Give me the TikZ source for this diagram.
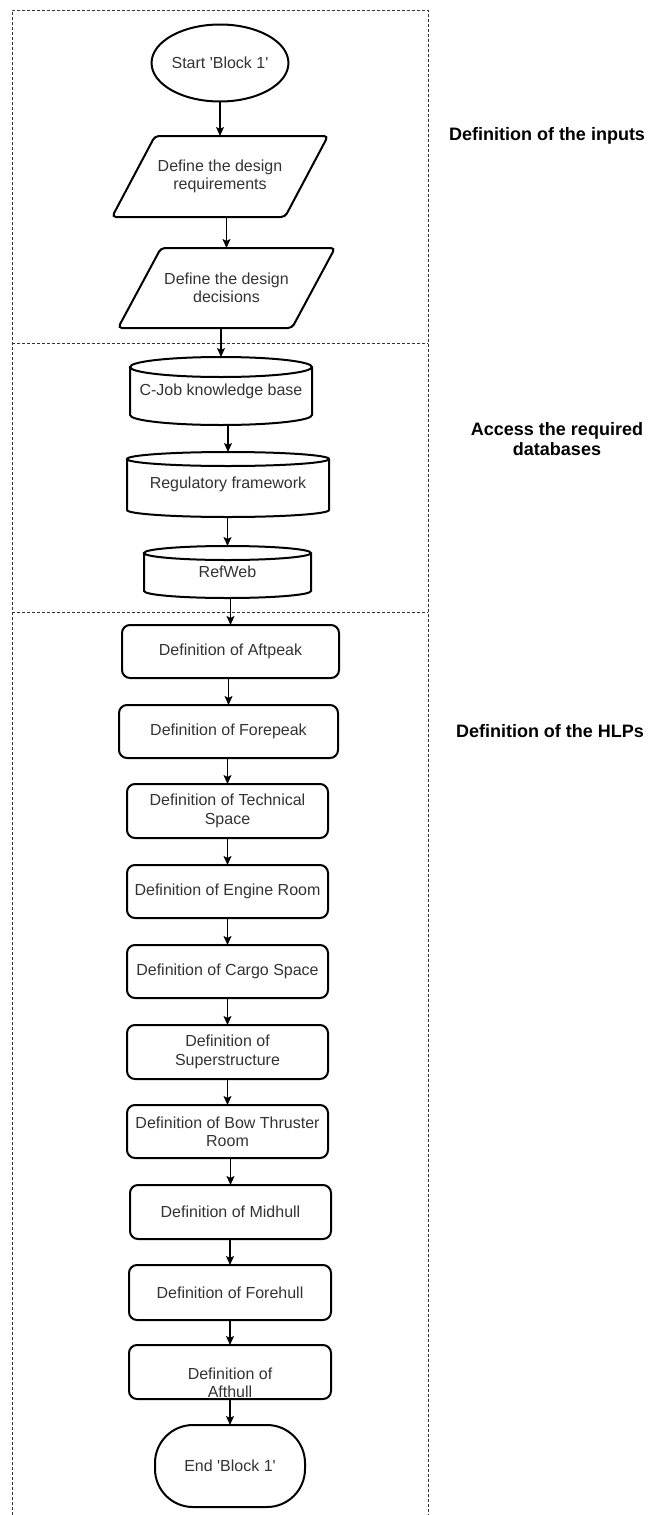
\documentclass[tikz,border=0pt]{standalone}
\usepackage{fontspec}
\setmainfont{Liberation Sans}
\usetikzlibrary{arrows.meta,calc,shapes.geometric}
\definecolor{txt}{HTML}{333333}
\newcommand\cyldraw[3]{%
 \draw[shp] ([yshift=-#3pt]#1.north west) -- ([yshift=#3pt]#1.south west)
   arc[start angle=180,end angle=360,x radius=#2pt,y radius=#3pt]
   -- ([yshift=-#3pt]#1.north east)
   arc[start angle=0,end angle=180,x radius=#2pt,y radius=#3pt]
   arc[start angle=180,end angle=360,x radius=#2pt,y radius=#3pt];}
\newcommand\paradraw[2]{%
 \draw[shp,rounded corners=4pt] (#1.south west) -- ([xshift=-#2pt]#1.south east)
   -- (#1.north east) -- ([xshift=#2pt]#1.north west) -- cycle;}
\begin{document}
\begin{tikzpicture}[x=1pt,y=-1pt,
  boxtext/.style={font=\fontsize{16}{18.4}\selectfont, text=txt, align=center},
  shp/.style={draw=black, line width=2pt},
  bare/.style={boxtext, inner sep=0pt, outer sep=0pt},
  hlp/.style={bare, shp, rounded corners=8pt, minimum width=201pt, minimum height=53pt},
  para/.style={bare, minimum width=216pt, minimum height=81pt},
  cyl/.style={bare},
  lab/.style={font=\bfseries\fontsize{18}{20.5}\selectfont, align=center, text=black},
  arr/.style={-{Stealth[length=9pt,width=8pt,inset=2pt]}, line width=1.3pt},
  dashframe/.style={line width=1pt, draw=black!80, dash pattern=on 3pt off 2pt}]
\useasboundingbox (0,0) rectangle (657,1515);
% frame
\draw[dashframe] (12,1515) -- (12,10) -- (428,10) -- (428,1515);
\draw[dashframe] (12,343) -- (428,343);
\draw[dashframe] (12,612) -- (428,612);
% labels
\node[lab] (l1) at (547,136) {Definition of the inputs};
\node[lab] (l2) at (557,439) {Access the required\\databases};
\node[lab] (l3) at (550,731) {Definition of the HLPs};
% inputs
\node[bare, shp, ellipse, minimum width=134pt, minimum height=77pt] (start) at (220,63) {Start \textquotesingle Block 1\textquotesingle};
\node[para] (p1) at (220,176.5) {Define the design\\requirements};
\paradraw{p1}{43}
\node[para, minimum width=217pt, minimum height=80pt] (p2) at (226.5,288) {Define the design\\decisions};
\paradraw{p2}{43}
% databases
\node[cyl, minimum width=182pt, minimum height=68pt] (c1) at (221,391) {C-Job knowledge base};
\cyldraw{c1}{91}{10}
\node[cyl, minimum width=202pt, minimum height=65pt] (c2) at (228,484.5) {Regulatory framework};
\cyldraw{c2}{101}{7}
\node[cyl, minimum width=167pt, minimum height=52pt] (c3) at (227.5,572) {RefWeb};
\cyldraw{c3}{83.5}{7}
% HLPs
\node[hlp, minimum width=217pt] (h1) at (230.5,651.5) {Definition of Aftpeak};
\node[hlp, minimum width=219pt] (h2) at (228.5,731.5) {Definition of Forepeak};
\node[hlp, minimum height=54pt] (h3) at (227.5,811) {Definition of Technical\\Space};
\node[hlp] (h4) at (227.5,891.5) {Definition of Engine Room};
\node[hlp] (h5) at (227.5,971.5) {Definition of Cargo Space};
\node[hlp, minimum height=54pt] (h6) at (227.5,1052) {Definition of\\Superstructure};
\node[hlp] (h7) at (227.5,1131.5) {Definition of Bow Thruster\\Room};
\node[hlp, minimum height=54pt] (h8) at (230.5,1212) {Definition of Midhull};
\node[hlp, minimum width=202pt, minimum height=55pt] (h9) at (230,1292.5) {Definition of Forehull};
\node[hlp, minimum width=202pt, minimum height=54pt,
  label={[boxtext, yshift=-10.5pt]center:Definition of\\Afthull}] (h10) at (230,1372) {};
\node[bare, shp, rounded corners=38pt, minimum width=150pt, minimum height=82pt] (end) at (230,1466) {End \textquotesingle Block 1\textquotesingle};
% connectors
\foreach \a/\b in {start/p1, p1/p2, p2/c1, c1/c2, c2/c3, c3/h1, h1/h2, h2/h3, h3/h4, h4/h5, h5/h6, h6/h7, h7/h8, h8/h9, h9/h10, h10/end}
  \draw[arr] (\b.north |- \a.south) -- (\b.north);
\end{tikzpicture}
\end{document}
